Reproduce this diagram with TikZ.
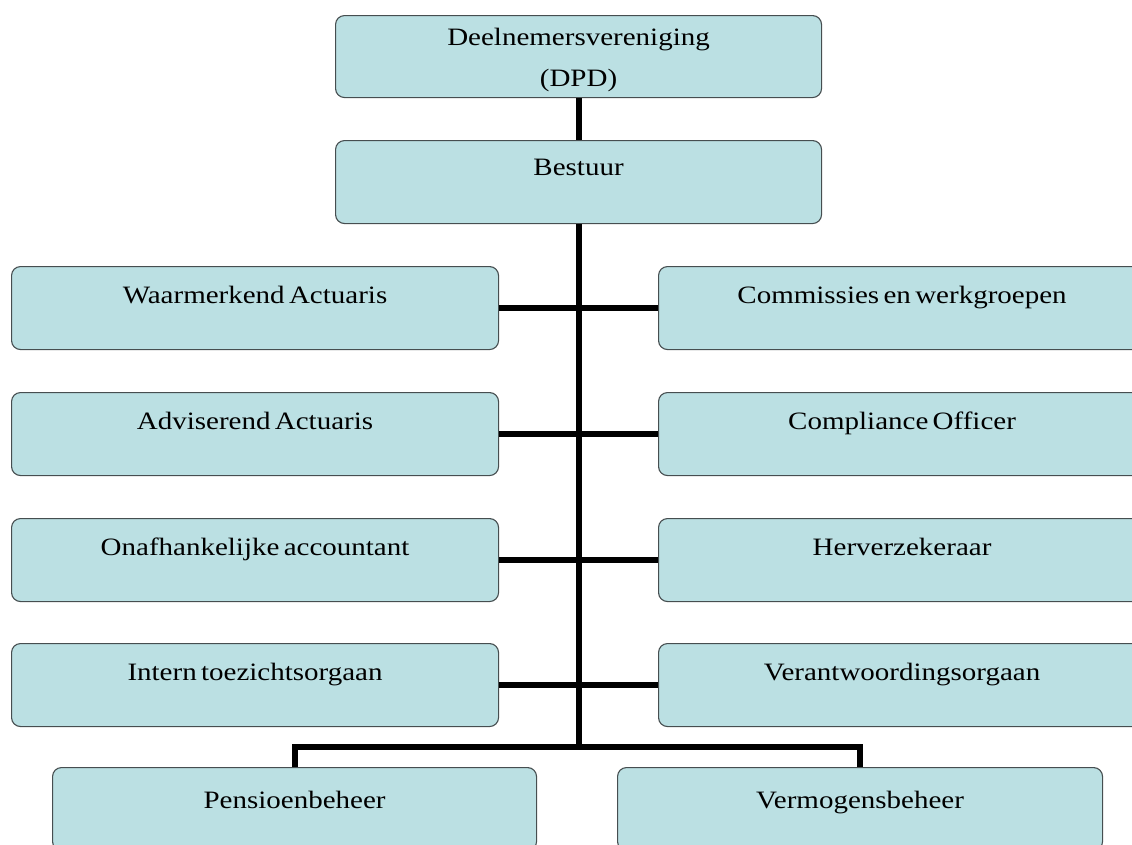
\documentclass[tikz,border=0pt]{standalone}
\usepackage{fontspec}
\setmainfont{Liberation Serif}[FakeStretch=1.16, WordSpace=0.6]
\definecolor{boxfill}{RGB}{187,224,227}
\definecolor{boxline}{RGB}{70,78,80}
\begin{document}
\begin{tikzpicture}[x=1pt,y=-1pt,
  orgbox/.style={draw=boxline, line width=1.1pt, fill=boxfill, rounded corners=9pt,
    inner sep=0pt, anchor=north west, minimum height=83pt, minimum width=487pt},
  lbl/.style={anchor=base, inner sep=0pt, font=\fontsize{25}{30}\selectfont},
  conn/.style={line width=6pt, black}]
\useasboundingbox (0,0) rectangle (1132,844);
\clip (0,0) rectangle (1132,844);
% top boxes
\node[orgbox, minimum width=486pt, minimum height=82pt] (dpd) at (335,15) {};
\node[orgbox, minimum width=486pt] (bestuur) at (335,140) {};
% left column
\node[orgbox] (L1) at (11,266) {};
\node[orgbox] (L2) at (11,392) {};
\node[orgbox] (L3) at (11,518) {};
\node[orgbox] (L4) at (11,643) {};
% right column
\node[orgbox] (R1) at (658,266) {};
\node[orgbox] (R2) at (658,392) {};
\node[orgbox] (R3) at (658,518) {};
\node[orgbox] (R4) at (658,643) {};
% bottom
\node[orgbox, minimum width=484pt] (pens) at (52,767) {};
\node[orgbox, minimum width=485pt] (verm) at (617,767) {};
% labels
\node[lbl] (tdpd1) at ([yshift=-30pt]dpd.north) {Deelnemersvereniging};
\node[lbl] (tdpd2) at ([yshift=-71pt]dpd.north) {(DPD)};
\node[lbl] (tbest) at ([yshift=-35pt]bestuur.north) {Bestuur};
\node[lbl] (tL1) at ([yshift=-37pt]L1.north) {Waarmerkend Actuaris};
\node[lbl] (tL2) at ([yshift=-37pt]L2.north) {Adviserend Actuaris};
\node[lbl] (tL3) at ([yshift=-37pt]L3.north) {Onafhankelijke accountant};
\node[lbl] (tL4) at ([yshift=-37pt]L4.north) {Intern toezichtsorgaan};
\node[lbl] (tR1) at ([yshift=-37pt]R1.north) {Commissies en werkgroepen};
\node[lbl] (tR2) at ([yshift=-37pt]R2.north) {Compliance Officer};
\node[lbl] (tR3) at ([yshift=-37pt]R3.north) {Herverzekeraar};
\node[lbl] (tR4) at ([yshift=-37pt]R4.north) {Verantwoordingsorgaan};
\node[lbl] (tpens) at ([yshift=-41pt]pens.north) {Pensioenbeheer};
\node[lbl] (tverm) at ([yshift=-41pt]verm.north) {Vermogensbeheer};
% connectors
\coordinate (split) at (bestuur.south |- 0,747);
\draw[conn] (dpd.south) -- (bestuur.north);
\draw[conn] (bestuur.south) -- (split);
\draw[conn] (L1.east) -- (R1.west);
\draw[conn] (L2.east) -- (R2.west);
\draw[conn] (L3.east) -- (R3.west);
\draw[conn] (L4.east) -- (R4.west);
\draw[conn] (pens.north) -- (pens.north |- split) -- (verm.north |- split) -- (verm.north);
\end{tikzpicture}
\end{document}
